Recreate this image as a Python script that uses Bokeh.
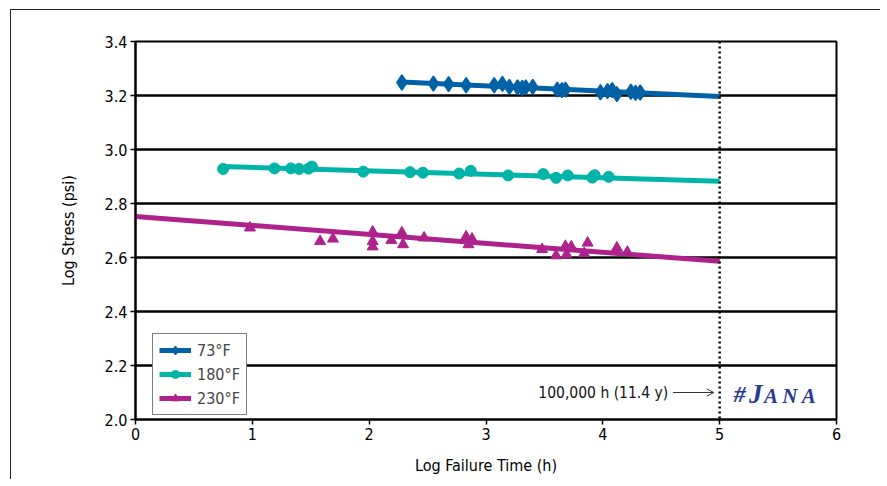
from bokeh.plotting import figure
from bokeh.models import (Range1d, FixedTicker, Span, Label, Arrow, OpenHead,
                          Legend, LegendItem, NumeralTickFormatter)
from bokeh.embed import file_html
from bokeh.resources import INLINE

# ---- data ----
x73 = [2.28, 2.55, 2.68, 2.83, 3.07, 3.14, 3.20, 3.27, 3.31, 3.34, 3.40,
       3.61, 3.65, 3.68, 3.98, 4.04, 4.08, 4.12, 4.24, 4.28, 4.32]
y73 = [3.248, 3.244, 3.242, 3.238, 3.238, 3.243, 3.232, 3.230, 3.228, 3.230, 3.232,
       3.222, 3.220, 3.222, 3.212, 3.216, 3.220, 3.205, 3.214, 3.210, 3.211]

x180 = [0.75, 1.19, 1.33, 1.40, 1.48, 1.51, 1.95, 2.35, 2.46, 2.77, 2.87,
        3.19, 3.49, 3.60, 3.70, 3.91, 3.93, 4.05]
y180 = [2.928, 2.930, 2.930, 2.928, 2.929, 2.937, 2.918, 2.916, 2.914, 2.911, 2.921,
        2.904, 2.909, 2.895, 2.904, 2.896, 2.905, 2.899]

x230 = [0.98, 1.58, 1.69, 2.03, 2.03, 2.03, 2.19, 2.28, 2.29, 2.47, 2.83, 2.88,
        2.85, 3.48, 3.60, 3.68, 3.69, 3.73, 3.84, 3.87, 4.12, 4.21]
y230 = [2.710, 2.660, 2.669, 2.695, 2.660, 2.640, 2.664, 2.692, 2.648, 2.673, 2.677,
        2.669, 2.648, 2.630, 2.607, 2.642, 2.611, 2.640, 2.615, 2.654, 2.636, 2.620]

# regression (fit) lines: start / end
fit73_x = [2.28, 5.0]
fit73_y = [3.250, 3.196]
fit180_x = [0.75, 5.0]
fit180_y = [2.937, 2.882]
fit230_x = [0.0, 5.0]
fit230_y = [2.752, 2.586]

series_names = ["73°F", "180°F", "230°F"]
x_ticks = [0, 1, 2, 3, 4, 5, 6]
y_ticks = [2.0, 2.2, 2.4, 2.6, 2.8, 3.0, 3.2, 3.4]
design_life_x = 5.0
design_life_label = "100,000 h (11.4 y)"

C73 = "#0061a6"
C180 = "#00b4aa"
C230 = "#ae228c"
LOGO = "#2a3a8f"
FONT = "DejaVu Sans Condensed, Roboto, sans-serif"

W, H = 870, 470
FL, FW, FT, FH = 124, 701, 31, 378
p = figure(width=W, height=H, output_backend="svg", toolbar_location=None,
           x_range=Range1d(0, 6), y_range=Range1d(2.0, 3.4),
           min_border_left=FL, min_border_right=W - FL - FW,
           min_border_top=FT, min_border_bottom=H - FT - FH)
p.styles = {"margin-left": "10px", "margin-top": "9px",
            "border-left": "1.5px solid #222", "border-top": "1.5px solid #222"}

p.outline_line_color = "black"
p.outline_line_width = 2
p.background_fill_color = "white"
p.border_fill_color = "white"

p.xgrid.grid_line_color = None
p.ygrid.grid_line_color = "black"
p.ygrid.grid_line_width = 2.5

p.xaxis.ticker = FixedTicker(ticks=x_ticks)
p.yaxis.ticker = FixedTicker(ticks=y_ticks)
p.yaxis.formatter = NumeralTickFormatter(format="0.0")
for ax in (p.xaxis[0], p.yaxis[0]):
    ax.axis_line_color = "black"
    ax.axis_line_width = 2
    ax.major_tick_line_color = "black"
    ax.major_tick_line_width = 1.5
    ax.major_tick_in = 0
    ax.major_tick_out = 5
    ax.minor_tick_line_color = None
    ax.major_label_text_font = FONT
    ax.major_label_text_font_size = "16px"
    ax.major_label_text_color = "black"
    ax.axis_label_text_font = FONT
    ax.axis_label_text_font_size = "16px"
    ax.axis_label_text_font_style = "normal"
    ax.axis_label_text_color = "black"
p.xaxis.axis_label = "Log Failure Time (h)"
p.yaxis.axis_label = "Log Stress (psi)"
p.xaxis.major_label_standoff = 3
p.yaxis.major_label_standoff = 3
p.xaxis.axis_label_standoff = 13
p.yaxis.axis_label_standoff = 24

# design-life line
p.add_layout(Span(location=design_life_x, dimension="height", line_color="black",
                  line_width=2.5, line_dash="2 3"))

# fit lines + markers
l73 = p.line(fit73_x, fit73_y, line_color=C73, line_width=5)
s73 = p.scatter(x73, y73, marker="diamond", size=15,
                fill_color=C73, line_color=C73, line_width=1.5)
l180 = p.line(fit180_x, fit180_y, line_color=C180, line_width=5)
s180 = p.scatter(x180, y180, marker="circle", size=11, fill_color=C180, line_color=C180)
l230 = p.line(fit230_x, fit230_y, line_color=C230, line_width=5)
s230 = p.scatter(x230, y230, marker="triangle", size=11, fill_color=C230, line_color=C230)

legend = Legend(items=[LegendItem(label=series_names[0], renderers=[l73, s73]),
                       LegendItem(label=series_names[1], renderers=[l180, s180]),
                       LegendItem(label=series_names[2], renderers=[l230, s230])],
                location=(17, 4), border_line_color="black", border_line_width=1.2,
                background_fill_alpha=1.0, label_text_font=FONT,
                label_text_font_size="16px", glyph_width=32, glyph_height=20,
                label_height=20, spacing=4, padding=6, margin=0,
                label_standoff=6)
p.add_layout(legend, "center")

# annotation text and arrow
p.add_layout(Label(x=4.56, y=2.1, text=design_life_label, text_font=FONT,
                   text_font_size="15.5px", text_align="right", text_baseline="middle",
                   text_color="#111"))
p.add_layout(Arrow(end=OpenHead(size=7, line_color="#333", line_width=1),
                   x_start=4.6, y_start=2.1, x_end=4.95, y_end=2.1,
                   line_color="#333", line_width=1))

# JANA logo (text)
p.add_layout(Label(x=5.12, y=2.093, text="#", text_font="Liberation Serif",
                   text_font_size="24px", text_font_style="bold italic",
                   text_color=LOGO, text_baseline="middle"))
p.add_layout(Label(x=5.25, y=2.093, text="J", text_font="Liberation Serif",
                   text_font_size="27px", text_font_style="bold italic",
                   text_color=LOGO, text_baseline="middle"))
p.add_layout(Label(x=5.38, y=2.088, text="A N A", text_font="Liberation Serif",
                   text_font_size="21px", text_font_style="bold italic",
                   text_color=LOGO, text_baseline="middle"))

open("out.html", "w").write(file_html(p, INLINE))
